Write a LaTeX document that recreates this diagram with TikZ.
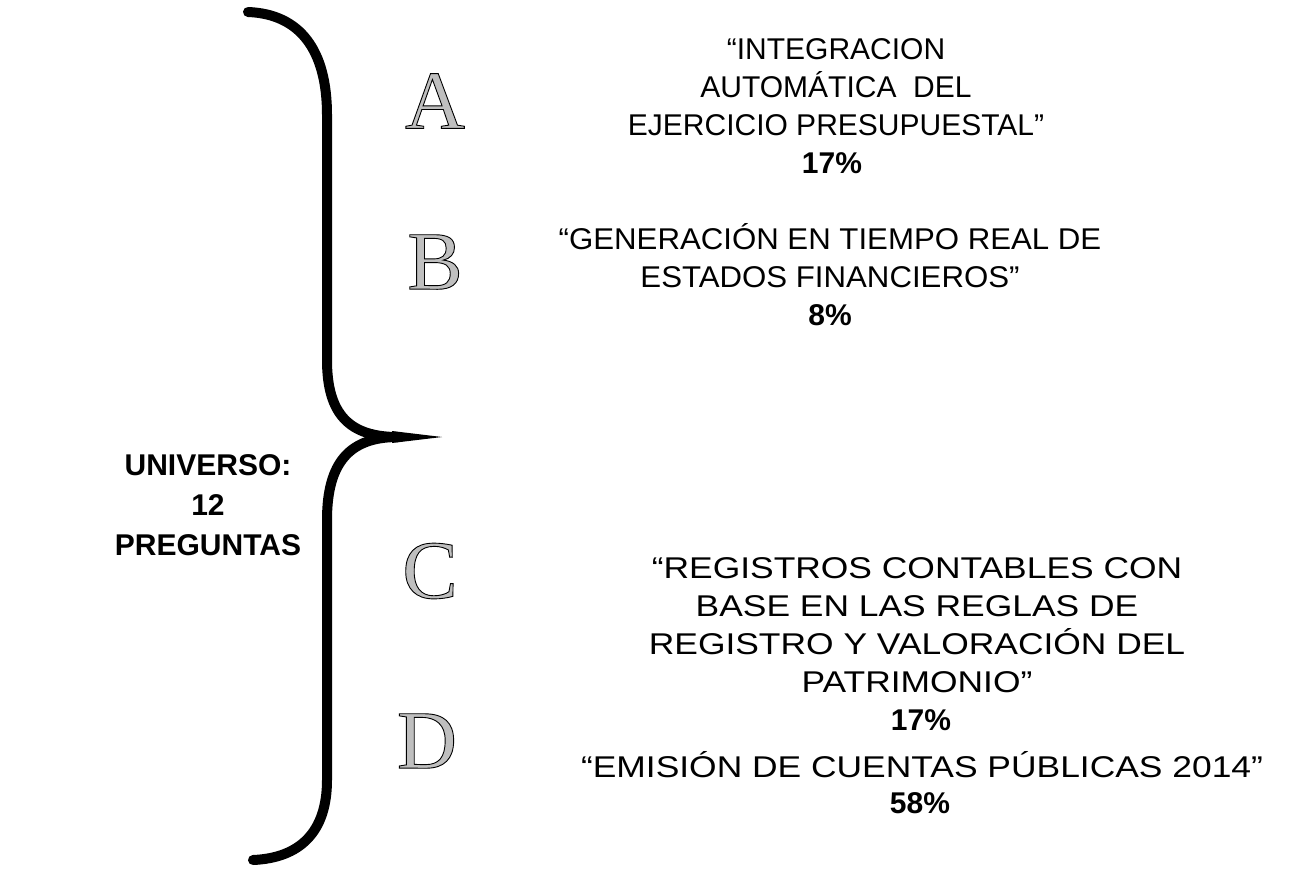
\documentclass[tikz,border=0pt]{standalone}
\usepackage{fontspec}
\setmainfont{Liberation Sans}
\newfontfamily\letterfont{Liberation Serif}
\newfontfamily\widefont[FakeStretch=1.18]{Liberation Sans}
\newfontfamily\midfont[FakeStretch=1.04]{Liberation Sans}
\usetikzlibrary{calc}

% hollow capitals for the four groups
\newcommand{\hollow}[1]{\special{pdf:literal direct 2 Tr 0.9 w 0 G}#1\special{pdf:literal direct 0 Tr}}

\tikzset{
  brace/.style={line width=10pt, line cap=round},
  desc/.style={align=center, inner sep=0pt, font=\fontsize{30}{38}\selectfont},
  pct/.style={inner sep=0pt, font=\fontsize{30}{38}\selectfont\bfseries},
  group/.style={inner sep=0pt, text=gray!50, font=\fontsize{83}{83}\letterfont},
}

\begin{document}
\begin{tikzpicture}[x=1pt,y=-1pt]
\useasboundingbox (0,0) rectangle (1292,871);

% the brace
\coordinate (top) at (248,12);
\coordinate (tip) at (442,437);
\coordinate (bot) at (253,860);
\draw[brace] (top) .. controls (300,14) and (327,50) .. (327,115) -- (327,360)
  .. controls (327,415) and (350,437) .. (398,437);
\draw[brace] (398,437) .. controls (350,437) and (327,462) .. (327,520) -- (327,780)
  .. controls (327,832) and (300,858) .. (bot);
\fill (392,431) -- (tip) -- (392,443) -- cycle;

% left label
\draw (208,505) node[desc, font=\fontsize{30}{40}\selectfont\bfseries] (univ) {UNIVERSO:\\12\\PREGUNTAS};

% letters
\draw (435,101) node[group] (grpA) {\hollow{A}};
\draw (435,262) node[group] (grpB) {\hollow{B}};
\draw (430,571) node[group] (grpC) {\hollow{C}};
\draw (427,741) node[group] (grpD) {\hollow{D}};

% descriptions
\draw (836,87) node[desc] (descA) {“INTEGRACION\\AUTOMÁTICA~ DEL\\EJERCICIO PRESUPUESTAL”};
\draw (832,163) node[pct] (pctA) {17\%};
\draw (830,256) node[desc, font=\fontsize{30}{38}\midfont] (descB) {“GENERACIÓN EN TIEMPO REAL DE\\ESTADOS FINANCIEROS”};
\draw (830,315) node[pct] (pctB) {8\%};
\draw (917,625) node[desc, font=\fontsize{30}{38}\widefont] (descC) {“REGISTROS CONTABLES CON\\BASE EN LAS REGLAS DE\\REGISTRO Y VALORACIÓN DEL\\PATRIMONIO”};
\draw (921,720) node[pct] (pctC) {17\%};
\draw (922,765) node[desc, font=\fontsize{30}{38}\widefont] (descD) {“EMISIÓN DE CUENTAS PÚBLICAS 2014”};
\draw (920,803) node[pct] (pctD) {58\%};
\end{tikzpicture}
\end{document}
